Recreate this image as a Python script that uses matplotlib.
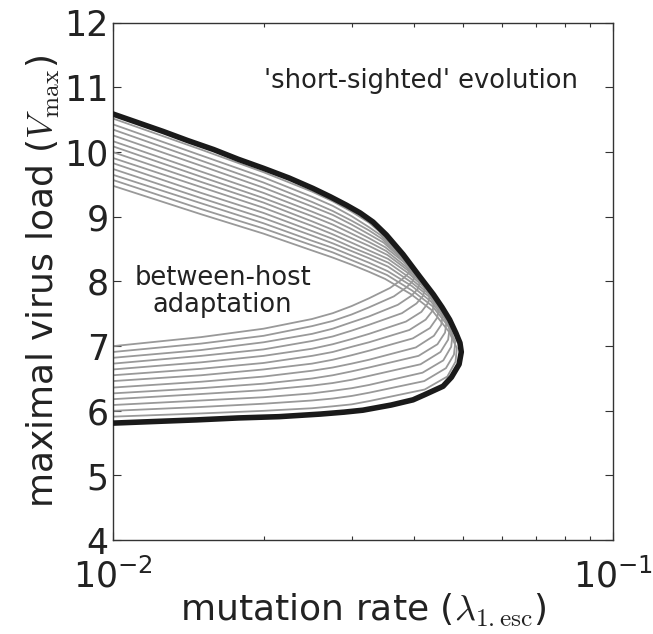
import matplotlib
matplotlib.use('Agg')
import matplotlib.pyplot as plt
from matplotlib.ticker import NullFormatter

plt.rcParams['font.family'] = ['DejaVu Sans']
plt.rcParams['mathtext.fontset'] = 'cm'
plt.rcParams['axes.unicode_minus'] = False

# mutation rates where every branch is sampled
branch_x = [0.010, 0.015, 0.020, 0.025, 0.0275, 0.030, 0.0325]

# grey family: upper branch (V_max) at branch_x
upper_y = [
    [10.52, 10.04, 9.69, 9.39, 9.24, 9.08, 8.91],
    [10.43, 9.95, 9.61, 9.31, 9.17, 9.01, 8.84],
    [10.35, 9.87, 9.53, 9.23, 9.09, 8.94, 8.79],
    [10.26, 9.79, 9.45, 9.16, 9.03, 8.88, 8.73],
    [10.17, 9.70, 9.37, 9.08, 8.95, 8.81, 8.67],
    [10.09, 9.62, 9.29, 9.01, 8.88, 8.74, 8.61],
    [10.00, 9.54, 9.22, 8.93, 8.80, 8.67, 8.55],
    [9.91, 9.46, 9.14, 8.86, 8.73, 8.60, 8.48],
    [9.83, 9.37, 9.06, 8.78, 8.66, 8.53, 8.42],
    [9.74, 9.29, 8.98, 8.71, 8.59, 8.47, 8.36],
    [9.65, 9.21, 8.90, 8.63, 8.52, 8.40, 8.29],
    [9.57, 9.12, 8.82, 8.56, 8.45, 8.33, 8.22],
    [9.48, 9.04, 8.74, 8.48, 8.37, 8.26, 8.15],
]

# lower branch at branch_x
lower_y = [
    [7.00, 7.14, 7.27, 7.42, 7.51, 7.62, 7.74],
    [6.91, 7.04, 7.16, 7.31, 7.39, 7.49, 7.60],
    [6.82, 6.94, 7.06, 7.19, 7.27, 7.37, 7.46],
    [6.73, 6.85, 6.95, 7.08, 7.15, 7.24, 7.33],
    [6.64, 6.75, 6.85, 6.96, 7.03, 7.11, 7.19],
    [6.55, 6.65, 6.74, 6.85, 6.91, 6.99, 7.06],
    [6.46, 6.55, 6.64, 6.73, 6.79, 6.86, 6.93],
    [6.36, 6.45, 6.53, 6.62, 6.67, 6.73, 6.79],
    [6.27, 6.35, 6.42, 6.50, 6.55, 6.61, 6.67],
    [6.18, 6.26, 6.32, 6.39, 6.43, 6.48, 6.54],
    [6.09, 6.16, 6.21, 6.27, 6.31, 6.35, 6.40],
    [6.00, 6.06, 6.11, 6.16, 6.19, 6.23, 6.28],
    [5.91, 5.96, 6.00, 6.04, 6.07, 6.10, 6.15],
]

# turning part of each grey curve (upper side -> tip -> lower side)
bend_x = [
    [0.03400, 0.03620, 0.03800, 0.03890, 0.03920, 0.03890, 0.03780, 0.03580],
    [0.03423, 0.03663, 0.03860, 0.03969, 0.04010, 0.03979, 0.03864, 0.03644],
    [0.03449, 0.03709, 0.03924, 0.04053, 0.04104, 0.04073, 0.03951, 0.03712],
    [0.03477, 0.03755, 0.03990, 0.04140, 0.04202, 0.04171, 0.04044, 0.03782],
    [0.03502, 0.03802, 0.04056, 0.04227, 0.04299, 0.04268, 0.04136, 0.03852],
    [0.03520, 0.03839, 0.04112, 0.04304, 0.04389, 0.04357, 0.04218, 0.03913],
    [0.03538, 0.03876, 0.04168, 0.04383, 0.04480, 0.04448, 0.04302, 0.03975],
    [0.03547, 0.03907, 0.04218, 0.04455, 0.04564, 0.04532, 0.04381, 0.04031],
    [0.03553, 0.03932, 0.04262, 0.04523, 0.04644, 0.04612, 0.04454, 0.04082],
    [0.03548, 0.03946, 0.04295, 0.04577, 0.04710, 0.04678, 0.04516, 0.04120],
    [0.03541, 0.03958, 0.04324, 0.04630, 0.04775, 0.04744, 0.04575, 0.04158],
    [0.03531, 0.03963, 0.04350, 0.04678, 0.04836, 0.04805, 0.04631, 0.04191],
    [0.03500, 0.03950, 0.04350, 0.04700, 0.04870, 0.04840, 0.04660, 0.04200],
]
bend_y = [
    [8.78, 8.56, 8.37, 8.28, 8.20, 8.12, 8.03, 7.90],
    [8.72, 8.50, 8.30, 8.19, 8.10, 8.01, 7.91, 7.77],
    [8.66, 8.43, 8.23, 8.10, 7.99, 7.89, 7.78, 7.64],
    [8.60, 8.37, 8.17, 8.02, 7.89, 7.78, 7.66, 7.51],
    [8.53, 8.31, 8.10, 7.93, 7.79, 7.67, 7.53, 7.38],
    [8.47, 8.24, 8.03, 7.84, 7.69, 7.55, 7.41, 7.25],
    [8.41, 8.18, 7.96, 7.75, 7.58, 7.44, 7.28, 7.12],
    [8.35, 8.12, 7.89, 7.66, 7.48, 7.33, 7.16, 6.98],
    [8.29, 8.05, 7.82, 7.57, 7.38, 7.21, 7.03, 6.85],
    [8.23, 7.99, 7.76, 7.49, 7.28, 7.10, 6.91, 6.72],
    [8.16, 7.93, 7.69, 7.40, 7.18, 6.99, 6.78, 6.59],
    [8.10, 7.86, 7.62, 7.31, 7.07, 6.87, 6.66, 6.46],
    [8.04, 7.80, 7.55, 7.22, 6.97, 6.76, 6.53, 6.33],
]

# outer boundary (thick black curve)
edge_x = [0.0100, 0.0126, 0.0141, 0.0159, 0.0178, 0.0200, 0.0225, 0.0251,
          0.0272, 0.0293, 0.0312, 0.0331, 0.0352, 0.0380, 0.0410, 0.0437,
          0.0455, 0.0471, 0.0485, 0.0494, 0.0497, 0.0492, 0.0475, 0.0457,
          0.0420, 0.0398, 0.0360, 0.0316, 0.0290, 0.0260, 0.0215, 0.0178,
          0.0147, 0.0121, 0.0100]
edge_y = [10.59, 10.32, 10.18, 10.04, 9.89, 9.75, 9.60, 9.44,
          9.31, 9.18, 9.06, 8.92, 8.72, 8.42, 8.08, 7.80,
          7.60, 7.41, 7.20, 7.05, 6.91, 6.72, 6.52, 6.38,
          6.25, 6.17, 6.09, 6.01, 5.98, 5.95, 5.91, 5.89,
          5.86, 5.835, 5.81]

fig = plt.figure(figsize=(6.53, 6.34), dpi=100)
ax = fig.add_axes([0.173, 0.148, 0.766, 0.816])

for up, lo, bx, by in zip(upper_y, lower_y, bend_x, bend_y):
    xs = branch_x + bx + branch_x[::-1]
    ys = up + by + lo[::-1]
    ax.plot(xs, ys, color='#999999', lw=1.3, zorder=2)

ax.plot(edge_x, edge_y, color='#1a1a1a', lw=4, zorder=3,
        solid_joinstyle='round')

ax.set_xscale('log')
ax.set_xlim(0.01, 0.1)
ax.set_ylim(4, 12)
ax.set_yticks(range(4, 13))
ax.xaxis.set_minor_formatter(NullFormatter())

for side in ax.spines.values():
    side.set_color('#333333')
    side.set_linewidth(1.0)

ax.tick_params(which='both', direction='in', top=True, right=True,
               colors='#333333', labelcolor='#222222', labelsize=25)
ax.tick_params(which='major', length=6, width=0.8)
ax.tick_params(which='minor', length=3, width=0.8)
ax.tick_params(axis='y', pad=3)
ax.tick_params(axis='x', pad=13)

ax.set_xlabel(r'mutation rate ($\lambda_{1.\mathrm{esc}}$)', fontsize=26,
              color='#222222', labelpad=-2)
ax.set_ylabel(r'maximal virus load ($V_{\max}$)', fontsize=26,
              color='#222222', labelpad=2)

ax.text(0.0413, 11.1, "'short-sighted' evolution", fontsize=18.5,
        color='#222222', ha='center', va='center')
ax.text(0.01656, 7.84, 'between-host\nadaptation', fontsize=18.5,
        color='#222222', ha='center', va='center', linespacing=1.05)

fig.savefig('out.png', dpi=100)
